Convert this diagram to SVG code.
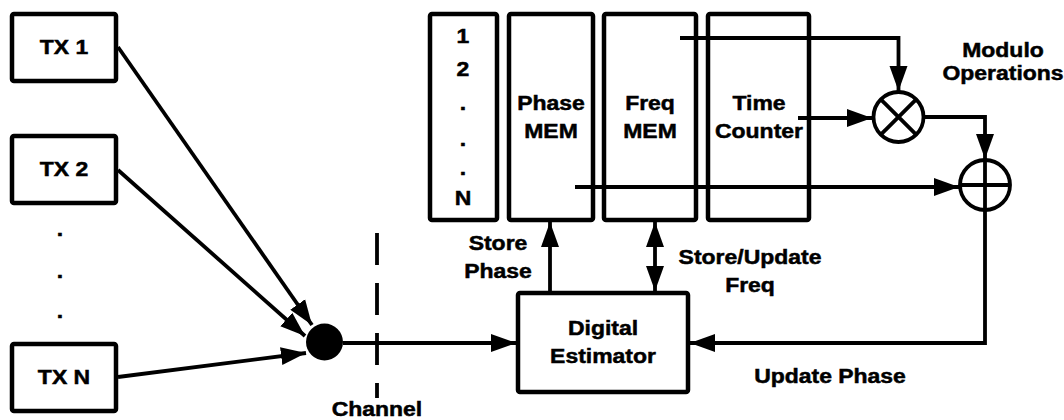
<svg xmlns="http://www.w3.org/2000/svg" width="1064" height="420" viewBox="0 0 1064 420">
<style>
.t{font-family:"Liberation Sans",Arial,sans-serif;font-weight:bold;font-size:20.5px;text-anchor:middle;fill:#000;stroke:#000;stroke-width:0.5}
.box{fill:#fff;stroke:#000;stroke-width:4.5}
.ln{fill:none;stroke:#000;stroke-width:3.8}
</style>
<defs>
<marker id="ah" markerUnits="userSpaceOnUse" markerWidth="27" markerHeight="19" refX="25" refY="9.5" orient="auto-start-reverse">
<path d="M0,0.5 L25,9.5 L0,18.5 Z" fill="#000"/>
</marker>
</defs>
<rect width="1064" height="420" fill="#fff"/>

<g id="tx1"><rect class="box" x="12" y="14" width="104" height="67" rx="2"/><text class="t" transform="translate(64,54) scale(1.12,1)">TX 1</text></g>
<g id="tx2"><rect class="box" x="12" y="136" width="104" height="67" rx="2"/><text class="t" transform="translate(64,176) scale(1.12,1)">TX 2</text></g>
<g id="txdots">
<text class="t" transform="translate(60,236) scale(1.12,1)">.</text>
<text class="t" transform="translate(60,278) scale(1.12,1)">.</text>
<text class="t" transform="translate(60,318) scale(1.12,1)">.</text>
</g>
<g id="txn"><rect class="box" x="12" y="344" width="104" height="67" rx="2"/><text class="t" transform="translate(64,384) scale(1.12,1)">TX N</text></g>

<g id="combiner"><circle cx="324.5" cy="342" r="18.5" fill="#000"/></g>

<g id="channel">
<line x1="377" y1="233" x2="377" y2="398" stroke="#000" stroke-width="3.8" stroke-dasharray="32 18"/>
<text class="t" transform="translate(377,416) scale(1.12,1)">Channel</text>
</g>

<g id="index"><rect class="box" x="430" y="14" width="67" height="206" rx="2"/>
<text class="t" transform="translate(463,43) scale(1.12,1)">1</text>
<text class="t" transform="translate(463,76) scale(1.12,1)">2</text>
<text class="t" transform="translate(463,110) scale(1.12,1)">.</text>
<text class="t" transform="translate(463,146) scale(1.12,1)">.</text>
<text class="t" transform="translate(463,175) scale(1.12,1)">.</text>
<text class="t" transform="translate(463,205) scale(1.12,1)">N</text>
</g>
<g id="phasemem"><rect class="box" x="509" y="14" width="84" height="206" rx="2"/>
<text class="t" transform="translate(551,110) scale(1.12,1)">Phase</text>
<text class="t" transform="translate(551,138) scale(1.12,1)">MEM</text></g>
<g id="freqmem"><rect class="box" x="604" y="14" width="92" height="206" rx="2"/>
<text class="t" transform="translate(650,110) scale(1.12,1)">Freq</text>
<text class="t" transform="translate(650,138) scale(1.12,1)">MEM</text></g>
<g id="timecounter"><rect class="box" x="708" y="14" width="101" height="206" rx="2"/>
<text class="t" transform="translate(759,110) scale(1.12,1)">Time</text>
<text class="t" transform="translate(759,138) scale(1.12,1)">Counter</text></g>

<g id="estimator"><rect class="box" x="518" y="293" width="170" height="99" rx="2"/>
<text class="t" transform="translate(603,335) scale(1.12,1)">Digital</text>
<text class="t" transform="translate(603,363) scale(1.12,1)">Estimator</text></g>

<g id="multiplier">
<circle cx="898.5" cy="117" r="25" fill="#fff" stroke="#000" stroke-width="3.8"/>
<line class="ln" x1="880.8" y1="99.3" x2="916.2" y2="134.7"/>
<line class="ln" x1="916.2" y1="99.3" x2="880.8" y2="134.7"/>
<text class="t" transform="translate(1003,57) scale(1.12,1)">Modulo</text>
<text class="t" transform="translate(1003,80) scale(1.12,1)">Operations</text>
</g>
<g id="adder">
<circle cx="985" cy="185" r="25" fill="#fff" stroke="#000" stroke-width="3.8"/>
<line class="ln" x1="960" y1="185" x2="1010" y2="185"/>
<line class="ln" x1="985" y1="160" x2="985" y2="210"/>
</g>

<g id="connectors">
<line class="ln" x1="118" y1="47" x2="312" y2="325" marker-end="url(#ah)"/>
<line class="ln" x1="118" y1="170" x2="305" y2="336" marker-end="url(#ah)"/>
<line class="ln" x1="118" y1="377" x2="306" y2="353" marker-end="url(#ah)"/>
<line class="ln" x1="343" y1="343" x2="516" y2="343" marker-end="url(#ah)"/>
<line class="ln" x1="550" y1="291" x2="550" y2="222" marker-end="url(#ah)"/>
<line class="ln" x1="655" y1="222" x2="655" y2="291" marker-start="url(#ah)" marker-end="url(#ah)"/>
<polyline class="ln" points="680,38 898.5,38 898.5,91" marker-end="url(#ah)"/>
<line class="ln" x1="798" y1="118" x2="872" y2="118" marker-end="url(#ah)"/>
<polyline class="ln" points="924,117 985,117 985,159" marker-end="url(#ah)"/>
<line class="ln" x1="575" y1="187" x2="959" y2="187" marker-end="url(#ah)"/>
<polyline class="ln" points="985,210 985,343 690,343" marker-end="url(#ah)"/>
</g>

<g id="labels">
<text class="t" transform="translate(498,250) scale(1.12,1)">Store</text>
<text class="t" transform="translate(498,278) scale(1.12,1)">Phase</text>
<text class="t" transform="translate(750,264) scale(1.12,1)">Store/Update</text>
<text class="t" transform="translate(750,292) scale(1.12,1)">Freq</text>
<text class="t" transform="translate(830,383) scale(1.12,1)">Update Phase</text>
</g>
</svg>
